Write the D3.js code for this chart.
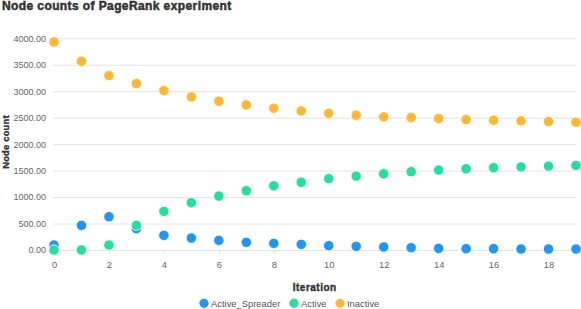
<!DOCTYPE html>
<html>
<head>
<meta charset="utf-8" />
<title>Node counts of PageRank experiment</title>
<script src="https://cdn.jsdelivr.net/npm/d3@7"></script>
<style>
  body { margin: 0; background: #fff; font-family: "Liberation Sans", Arial, sans-serif; }
</style>
</head>
<body>
<div id="chart"></div>
<script>
var iterations = d3.range(0, 20);
var activeSpreader = [94, 466, 629, 403, 277, 226, 182, 145, 126, 107, 82, 69, 57, 44, 31, 25, 25, 19, 19, 19];
var active = [0, 0, 94, 466, 730, 893, 1019, 1119, 1213, 1280, 1348, 1396, 1440, 1480, 1510, 1535, 1555, 1570, 1585, 1598];
var inactive = [3931, 3566, 3296, 3145, 3013, 2893, 2811, 2742, 2679, 2629, 2585, 2547, 2516, 2503, 2484, 2465, 2453, 2440, 2428, 2415];
var yTicks = [0, 500, 1000, 1500, 2000, 2500, 3000, 3500, 4000];
var xTicks = [0, 2, 4, 6, 8, 10, 12, 14, 16, 18];

var series = [
  { name: "Active_Spreader", values: activeSpreader, color: "#2196f3" },
  { name: "Active", values: active, color: "#26df9e" },
  { name: "Inactive", values: inactive, color: "#ffb833" }
];

var width = 581, height = 309;
var svg = d3.select("#chart").append("svg").attr("width", width).attr("height", height)
  .attr("font-family", "Liberation Sans, Arial, sans-serif");

var x = d3.scaleLinear().domain([0, 19]).range([54, 576]);
var y = d3.scaleLinear().domain([0, 4000]).range([250, 38.3]);

// title (heavy look)
svg.append("text").attr("x", 2).attr("y", 10).attr("font-size", 12).attr("font-weight", "bold")
  .attr("fill", "#333").attr("stroke", "#333").attr("stroke-width", 0.5)
  .style("letter-spacing", "0.4px").text("Node counts of PageRank experiment");

// grid + y labels
var yAxis = svg.append("g").attr("transform", "translate(53,0)")
  .call(d3.axisLeft(y).tickValues(yTicks).tickSize(-523).tickPadding(7).tickFormat(d3.format(".2f")));
yAxis.select(".domain").remove();
yAxis.selectAll("line").attr("stroke", "#e3e3e3");
yAxis.selectAll("text").attr("fill", "#666").attr("font-size", 9).attr("font-family", null);

// x axis
var xAxis = svg.append("g").attr("transform", "translate(0,250)")
  .call(d3.axisBottom(x).tickValues(xTicks).tickSize(4).tickPadding(7));
xAxis.select(".domain").remove();
xAxis.selectAll("line").attr("stroke", "#e3e3e3");
xAxis.selectAll("text").attr("fill", "#666").attr("font-size", 9.4).attr("font-family", null);

// axis titles
svg.append("text").attr("transform", "translate(8.5,142) rotate(-90)").attr("text-anchor", "middle")
  .attr("font-size", 9.4).attr("font-weight", "bold").attr("fill", "#333")
  .attr("stroke", "#333").attr("stroke-width", 0.35).style("letter-spacing", "0.2px").text("Node count");
svg.append("text").attr("x", 314.7).attr("y", 291).attr("text-anchor", "middle")
  .attr("font-size", 10).attr("font-weight", "bold").attr("fill", "#333")
  .attr("stroke", "#333").attr("stroke-width", 0.4).style("letter-spacing", "0.5px").text("Iteration");

// points
series.forEach(function(s) {
  svg.append("g").selectAll("circle").data(s.values).enter().append("circle")
    .attr("cx", function(d, i) { return x(iterations[i]); })
    .attr("cy", function(d) { return y(d); })
    .attr("r", 5.2)
    .attr("fill", s.color)
    .attr("stroke", "#fff")
    .attr("stroke-width", 0.8);
});

// legend
var legendX = [204, 294, 340];
var legend = svg.append("g");
series.forEach(function(s, i) {
  legend.append("circle").attr("cx", legendX[i]).attr("cy", 303.3).attr("r", 4.6).attr("fill", s.color);
  legend.append("text").attr("x", legendX[i] + 7).attr("y", 306.6).attr("font-size", 9.4)
    .attr("fill", "#555").text(s.name);
});
</script>
</body>
</html>
